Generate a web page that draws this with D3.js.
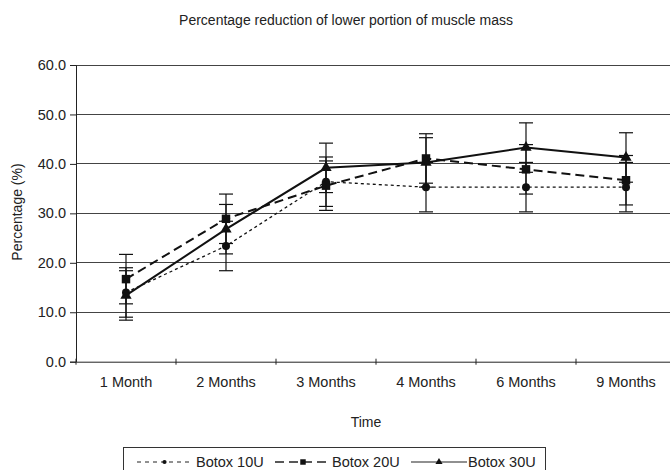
<!DOCTYPE html>
<html><head><meta charset="utf-8">
<script src="https://cdn.jsdelivr.net/npm/d3@7"></script>
<style>body{margin:0;background:#fff}svg{display:block;font-family:"Liberation Sans",Arial,sans-serif}</style>
</head><body><svg id="c" width="670" height="470"></svg>
<script>
const categories = ["1 Month","2 Months","3 Months","4 Months","6 Months","9 Months"];
const seriesNames = ["Botox 10U","Botox 20U","Botox 30U"];
const botox10 = [14.0, 23.4, 36.4, 35.3, 35.3, 35.3];
const botox20 = [16.7, 28.9, 35.6, 41.1, 38.9, 36.7];
const botox30 = [13.4, 26.8, 39.2, 40.3, 43.3, 41.3];
const err10 = [5.0, 5.0, 5.0, 5.0, 5.0, 5.0];
const err20 = [5.0, 5.0, 5.0, 5.0, 5.0, 5.0];
const err30 = [5.0, 5.0, 5.0, 5.0, 5.0, 5.0];
const yTicks = [0,10,20,30,40,50,60];

const svg = d3.select("#c");
const x = d3.scaleBand().domain(categories).range([76, 676]);
const y = d3.scaleLinear().domain([0,60]).range([361.7, 65]);
const cx = d => x(d) + x.bandwidth()/2;
const FONT = "Liberation Sans, Arial, sans-serif";

// title
svg.append("text").attr("x",346).attr("y",24.5).attr("text-anchor","middle")
  .attr("font-size",14).attr("fill","#222").text("Percentage reduction of lower portion of muscle mass");

// gridlines
svg.append("g").selectAll("line").data(yTicks.filter(t=>t>0)).join("line")
  .attr("x1",76).attr("x2",670).attr("y1",d=>y(d)).attr("y2",d=>y(d))
  .attr("stroke","#444").attr("stroke-width",1).attr("shape-rendering","crispEdges");

// y axis
const ya = svg.append("g").attr("transform","translate(76,0)")
  .call(d3.axisLeft(y).tickValues(yTicks).tickFormat(d3.format(".1f")).tickSize(6).tickPadding(4));
ya.select(".domain").attr("stroke","#222");
ya.selectAll(".tick line").attr("stroke","#222");
ya.selectAll("text").attr("font-size",14.5).attr("fill","#222").attr("font-family",FONT);

// x axis
const xa = svg.append("g").attr("transform",`translate(0,${y(0)})`)
  .call(d3.axisBottom(x).tickSize(0).tickPadding(15));
xa.select(".domain").attr("stroke","#222");
xa.selectAll("text").attr("font-size",14.5).attr("fill","#222").attr("font-family",FONT);
svg.append("g").selectAll("line").data(categories).join("line")
  .attr("x1",d=>x(d)).attr("x2",d=>x(d)).attr("y1",y(0)-3).attr("y2",y(0)+3)
  .attr("stroke","#222");

// axis titles
svg.append("text").attr("transform","translate(22,212) rotate(-90)").attr("text-anchor","middle")
  .attr("font-size",14).attr("fill","#222").text("Percentage (%)");
svg.append("text").attr("x",366).attr("y",427).attr("text-anchor","middle")
  .attr("font-size",14).attr("fill","#222").text("Time");

const series = [
  {name:seriesNames[0], vals:botox10, err:err10, dash:"3,3", w:1.3, marker:"circle"},
  {name:seriesNames[1], vals:botox20, err:err20, dash:"9,5", w:2, marker:"square"},
  {name:seriesNames[2], vals:botox30, err:err30, dash:null, w:2, marker:"triangle"}
];
const symFor = m => m==="circle" ? d3.symbol(d3.symbolCircle, 50) : m==="square" ? d3.symbol(d3.symbolSquare, 72) : d3.symbol(d3.symbolTriangle, 55);

const line = d3.line().x((d,i)=>cx(categories[i])).y(d=>y(d));
series.forEach(s=>{
  const g = svg.append("g");
  const eb = g.append("g").selectAll("g").data(s.vals).join("g");
  eb.append("line").attr("x1",(d,i)=>cx(categories[i])).attr("x2",(d,i)=>cx(categories[i]))
    .attr("y1",(d,i)=>y(d+s.err[i])).attr("y2",(d,i)=>y(d-s.err[i])).attr("stroke","#111").attr("stroke-width",1.2);
  [1,-1].forEach(sg=>{
    eb.append("line").attr("x1",(d,i)=>cx(categories[i])-7).attr("x2",(d,i)=>cx(categories[i])+7)
      .attr("y1",(d,i)=>y(d+sg*s.err[i])).attr("y2",(d,i)=>y(d+sg*s.err[i])).attr("stroke","#111").attr("stroke-width",1.2);
  });
  g.append("path").datum(s.vals).attr("d",line).attr("fill","none").attr("stroke","#111")
    .attr("stroke-width",s.w).attr("stroke-dasharray",s.dash);
  g.append("g").selectAll("path").data(s.vals).join("path")
    .attr("transform",(d,i)=>`translate(${cx(categories[i])},${y(d)})`)
    .attr("d",symFor(s.marker)).attr("fill","#111");
});

// legend
const lg = svg.append("g");
lg.append("rect").attr("x",123.5).attr("y",447.5).attr("width",422).attr("height",40)
  .attr("fill","none").attr("stroke","#333");
const legItems = [
  {x0:137, x1:192, tx:196, mk:"circle", dash:"4,4", w:1, size:14},
  {x0:275, x1:331, tx:332, mk:"square", dash:"9,5", w:1.5, size:30},
  {x0:411, x1:467, tx:468, mk:"triangle", dash:null, w:1.2, size:22}
];
legItems.forEach((it,k)=>{
  const s = series[k];
  lg.append("line").attr("x1",it.x0).attr("x2",it.x1).attr("y1",462).attr("y2",462)
    .attr("stroke","#222").attr("stroke-width",it.w).attr("stroke-dasharray",it.dash);
  lg.append("path").attr("transform",`translate(${(it.x0+it.x1)/2},462)`)
    .attr("d",d3.symbol(it.mk==="circle"?d3.symbolCircle:it.mk==="square"?d3.symbolSquare:d3.symbolTriangle, it.size)).attr("fill","#111");
  lg.append("text").attr("x",it.tx).attr("y",467).attr("font-size",14.5).attr("fill","#222").text(s.name);
});
</script></body></html>
